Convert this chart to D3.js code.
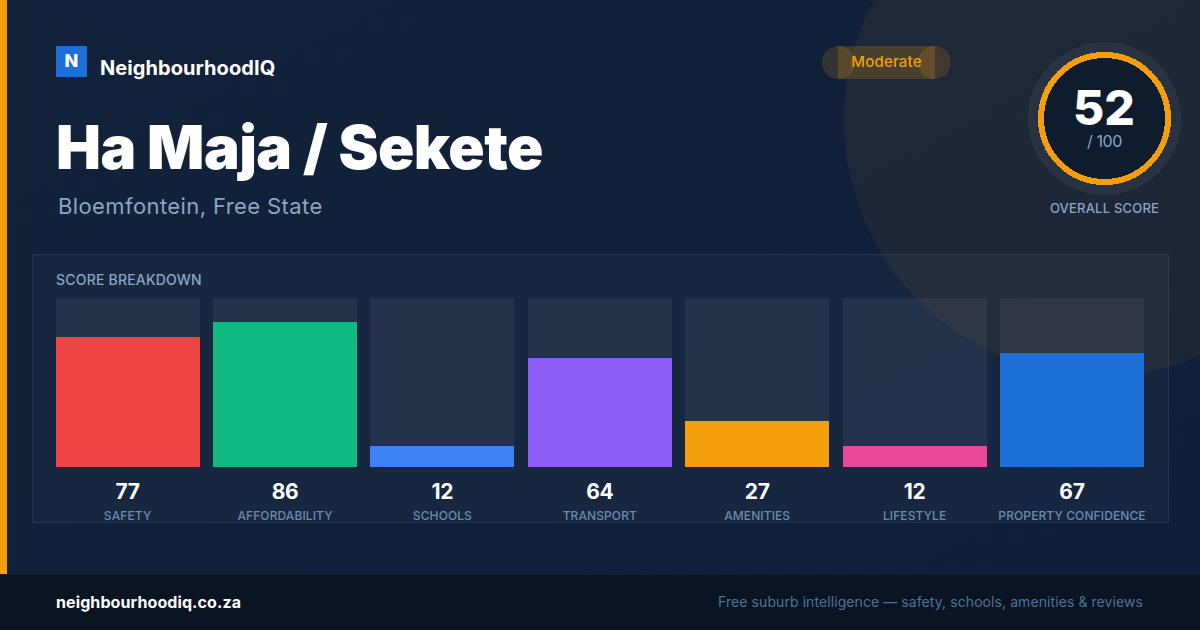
<!DOCTYPE html>
<html>
<head>
<meta charset="utf-8">
<script src="https://cdn.jsdelivr.net/npm/d3@7"></script>
<style>
html,body{margin:0;padding:0;background:#0f1f35;}
svg{display:block;font-family:Inter,"Noto Sans",sans-serif;}
.round{shape-rendering:crispEdges;}
</style>
</head>
<body>
<div id="chart"></div>
<script>
var categories = ['SAFETY','AFFORDABILITY','SCHOOLS','TRANSPORT','AMENITIES','LIFESTYLE','PROPERTY CONFIDENCE'];
var scores = [77,86,12,64,27,12,67];
var barColors = ['#ef4444','#10b981','#3b82f6','#8b5cf6','#f59e0b','#ec4899','#1d6fd8'];
var overallScore = 52;
var overallMax = 100;
var rating = 'Moderate';
var brand = 'NeighbourhoodIQ';
var suburb = 'Ha Maja / Sekete';
var place = 'Bloemfontein, Free State';
var site = 'neighbourhoodiq.co.za';
var tagline = 'Free suburb intelligence \u2014 safety, schools, amenities & reviews';

var W = 1200, H = 630;
var svg = d3.select('#chart').append('svg').attr('width',W).attr('height',H);

function addText(s,x,y,size,weight,fill,anchor,spacing){
	return svg.append('text').text(s)
		.attr('x',x).attr('y',y)
		.attr('font-size',size).attr('font-weight',weight)
		.attr('fill',fill).attr('text-anchor',anchor||'start')
		.attr('letter-spacing',spacing||0);
}

// background and the big faint amber circle
var defs = svg.append('defs');
var grad = defs.append('linearGradient').attr('id','bg').attr('x1',0).attr('y1',0).attr('x2',1).attr('y2',1);
grad.append('stop').attr('offset','0%').attr('stop-color','#12223a');
grad.append('stop').attr('offset','100%').attr('stop-color','#0f1f3a');
var pat = defs.append('pattern').attr('id','dots').attr('width',32).attr('height',32)
	.attr('patternUnits','userSpaceOnUse').attr('x',8).attr('y',8);
pat.append('circle').attr('cx',16).attr('cy',16).attr('r',1).attr('fill','#1b2d4a').attr('fill-opacity',0.5);

svg.append('rect').attr('width',W).attr('height',H).attr('fill','url(#bg)');
svg.append('circle').attr('class','round').attr('cx',1100).attr('cy',120).attr('r',256)
	.attr('fill','#f59e0b').attr('fill-opacity',0.06);
svg.append('rect').attr('width',7).attr('height',574).attr('fill','#f59e0b');

// breakdown panel, tracks go first so the dots can lie over them
svg.append('rect').attr('x',32.5).attr('y',254.5).attr('width',1136).attr('height',268)
	.attr('fill','#fff').attr('fill-opacity',0.03)
	.attr('stroke','#fff').attr('stroke-opacity',0.07);

var x = d3.scaleBand().domain(categories).range([55.6,1144]).paddingInner(0.0851).paddingOuter(0);
var y = d3.scaleLinear().domain([0,100]).range([466,298]);
var baseY = 467;

var rows = categories.map(function(c,i){return {name:c,score:scores[i],color:barColors[i]};});

svg.selectAll('.track').data(rows).enter().append('rect')
	.attr('class','track')
	.attr('x',function(d){return Math.round(x(d.name));})
	.attr('y',y(100))
	.attr('width',Math.round(x.bandwidth()))
	.attr('height',baseY-y(100))
	.attr('fill','#fff').attr('fill-opacity',0.05);

svg.append('rect').attr('x',7).attr('width',W-7).attr('height',574).attr('fill','url(#dots)');

svg.selectAll('.bar').data(rows).enter().append('rect')
	.attr('class','bar')
	.attr('x',function(d){return Math.round(x(d.name));})
	.attr('y',function(d){return Math.round(y(d.score));})
	.attr('width',Math.round(x.bandwidth()))
	.attr('height',function(d){return baseY-Math.round(y(d.score));})
	.attr('fill',function(d){return d.color;});

addText('SCORE BREAKDOWN',56,285,14,500,'#8ba5c4',null,0.2);

svg.selectAll('.val').data(rows).enter().append('text')
	.attr('class','val')
	.attr('x',function(d){return x(d.name)+x.bandwidth()/2;})
	.attr('y',499)
	.attr('text-anchor','middle')
	.attr('font-size',21).attr('font-weight',700).attr('fill','#fff')
	.attr('letter-spacing',-0.3)
	.text(function(d){return d.score;});

var axis = svg.append('g').attr('transform','translate(0,511)')
	.call(d3.axisBottom(x).tickSize(0).tickPadding(0));
axis.select('.domain').remove();
axis.selectAll('text')
	.attr('font-family','Inter,"Noto Sans",sans-serif')
	.attr('font-size',12).attr('font-weight',500).attr('fill','#6a8bb0')
	.attr('letter-spacing',0.1);

// header
svg.append('rect').attr('x',56).attr('y',46).attr('width',31).attr('height',31).attr('fill','#1d6fd8');
addText('N',71.5,67,18,800,'#fff','middle');
addText(brand,100,75,20,700,'#fff',null,0.07);
addText(suburb,56,169,60,900,'#fff',null,-0.55);
addText(place,58,214,22,400,'#8ba5c4',null,0.4);

// rating pill, rect and end caps overlap on purpose
var pill = svg.append('g').attr('fill','#f59e0b').attr('fill-opacity',0.15);
pill.append('rect').attr('x',838).attr('y',46).attr('width',97).attr('height',33).attr('fill-opacity',0.2);
pill.append('circle').attr('class','round').attr('cx',838.5).attr('cy',62.5).attr('r',16.5);
pill.append('circle').attr('class','round').attr('cx',934.5).attr('cy',62.5).attr('r',16.5);
addText(rating,886.5,67,15,500,'#f59e0b','middle',0.2);

// overall score ring
svg.append('circle').attr('class','round').attr('cx',1104.5).attr('cy',118.5).attr('r',76.5)
	.attr('fill','#fff').attr('fill-opacity',0.05);
svg.append('circle').attr('class','round').attr('cx',1104.5).attr('cy',118.5).attr('r',63.5)
	.attr('fill','#0f1c2e').attr('stroke','#f59e0b').attr('stroke-width',6);
addText(overallScore,1104,125,48,800,'#fff','middle');
addText('/ '+overallMax,1104.5,147,16,400,'#8ba5c4','middle',-0.4);
addText('OVERALL SCORE',1104.5,213,13,500,'#8ba5c4','middle',0.2);

// footer
svg.append('rect').attr('y',574).attr('width',W).attr('height',56).attr('fill','#0a1422');
svg.append('line').attr('x1',0).attr('x2',W).attr('y1',574.5).attr('y2',574.5).attr('stroke','#fff').attr('stroke-opacity',0.05);
addText(site,56,608,16,700,'#fff',null,0.1);
addText(tagline,1143,607,14,400,'#4f7299','end',0.08);
</script>
</body>
</html>
